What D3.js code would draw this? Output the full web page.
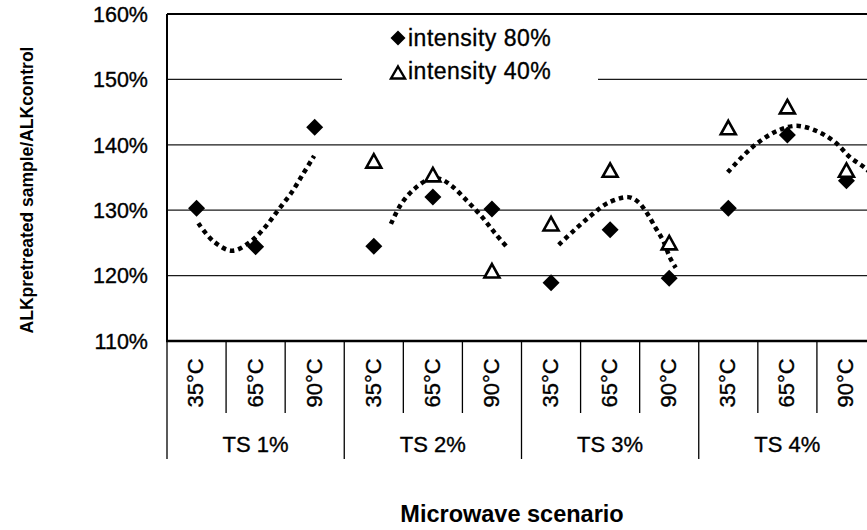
<!DOCTYPE html>
<html>
<head>
<meta charset="utf-8">
<script src="https://cdn.jsdelivr.net/npm/d3@7/dist/d3.min.js"></script>
<style>
  html, body { margin: 0; padding: 0; background: #fff; }
  svg { display: block; font-family: "Liberation Sans", Arial, sans-serif; }
  text.t { stroke: #000; stroke-width: 0.35px; }
</style>
</head>
<body>
<svg id="chart" width="867" height="530"></svg>
<script>
// ---- data ----
const groups = ["TS 1%", "TS 2%", "TS 3%", "TS 4%"];
const temps = ["35°C", "65°C", "90°C"];
const yTicks = [110, 120, 130, 140, 150, 160];
const intensity80 = [130.3, 124.4, 142.7, 124.5, 132.0, 130.2, 118.9, 127.0, 119.6, 130.3, 141.5, 134.5];
const intensity40 = [null, null, null, 137.5, 135.4, 120.7, 127.9, 136.1, 125.0, 142.6, 145.8, 136.1];
// trend curves: [category position (0 = first category centre), value]
const trendTS1 = [[0.03,128.0],[0.28,125.3],[0.60,123.8],[0.90,125.1],[1.16,127.4],[1.38,130.0],[1.60,132.6],[1.80,135.5],[1.99,138.3]];
const trendTS2 = [[3.29,127.9],[3.46,130.9],[3.68,133.2],[3.95,134.8],[4.12,134.8],[4.32,133.7],[4.58,131.4],[4.83,129.0],[5.05,126.5],[5.27,124.2]];
const trendTS3 = [[6.13,124.7],[6.40,127.0],[6.69,129.3],[6.96,131.1],[7.30,132.0],[7.47,131.3],[7.62,129.6],[7.77,127.3],[7.90,125.3],[8.01,122.8],[8.11,121.2]];
const trendTS4 = [[8.99,135.8],[9.25,138.3],[9.50,140.3],[9.82,142.1],[10.16,142.9],[10.52,142.0],[10.82,140.3],[11.06,138.1],[11.31,136.5],[11.50,134.8]];
const legendLabels = ["intensity 80%", "intensity 40%"];

// ---- layout ----
const L = 167, R = 876, T = 14, B = 341;
const svg = d3.select("#chart");
const categories = [];
groups.forEach(g => temps.forEach(t => categories.push(g + "|" + t)));

const x = d3.scaleBand().domain(categories).range([L, R]).padding(0);
const xPos = d3.scaleLinear().domain([-0.5, categories.length - 0.5]).range([L, R]);
const y = d3.scaleLinear().domain([110, 160]).range([B, T]);

// gridlines
svg.append("g").selectAll("line").data(yTicks.filter(v => v > 110 && v < 160)).join("line")
  .attr("x1", L).attr("x2", R).attr("y1", d => y(d)).attr("y2", d => y(d))
  .attr("stroke", "#1a1a1a").attr("stroke-width", 1.2);

// plot border (top + left)
svg.append("line").attr("x1", L).attr("x2", R).attr("y1", y(160)).attr("y2", y(160))
  .attr("stroke", "#000").attr("stroke-width", 2);
svg.append("line").attr("x1", L).attr("x2", L).attr("y1", y(160)).attr("y2", B)
  .attr("stroke", "#000").attr("stroke-width", 2);

// y tick labels
svg.append("g").selectAll("text").data(yTicks).join("text").attr("class", "t")
  .attr("x", 148).attr("y", d => y(d)).attr("dy", "0.36em")
  .attr("text-anchor", "end").attr("font-size", 21.5).attr("fill", "#000")
  .text(d => d + "%");

// category axis ticks
const tickG = svg.append("g");
categories.forEach((c, i) => {
  const xx = x(c);
  const isGroup = i % temps.length === 0;
  tickG.append("line").attr("x1", xx).attr("x2", xx).attr("y1", B).attr("y2", isGroup ? 459 : 413)
    .attr("stroke", "#000").attr("stroke-width", 1.3);
});
tickG.append("line").attr("x1", R).attr("x2", R).attr("y1", B).attr("y2", 459)
  .attr("stroke", "#000").attr("stroke-width", 1.3);
svg.append("line").attr("x1", L - 1).attr("x2", R).attr("y1", B).attr("y2", B)
  .attr("stroke", "#000").attr("stroke-width", 2.5);

// temperature labels (rotated)
svg.append("g").selectAll("text").data(categories).join("text").attr("class", "t")
  .attr("transform", d => `translate(${x(d) + x.bandwidth() / 2 - 1},383) rotate(-90)`)
  .attr("text-anchor", "middle").attr("dy", "0.36em")
  .attr("font-size", 22).attr("fill", "#000")
  .text(d => d.split("|")[1]);

// group labels
svg.append("g").selectAll("text").data(groups).join("text").attr("class", "t")
  .attr("x", (g, gi) => (x(categories[gi * 3]) + x(categories[gi * 3 + 2]) + x.bandwidth()) / 2)
  .attr("y", 452).attr("text-anchor", "middle")
  .attr("font-size", 22).attr("fill", "#000")
  .text(d => d);

// axis titles
svg.append("text").attr("x", 512).attr("y", 522).attr("text-anchor", "middle")
  .attr("font-size", 23.5).attr("font-weight", "bold").attr("fill", "#000")
  .text("Microwave scenario");
svg.append("text").attr("transform", "translate(33,190) rotate(-90)")
  .attr("text-anchor", "middle").attr("font-size", 17.5).attr("font-weight", "bold").attr("fill", "#000")
  .text("ALKpretreated sample/ALKcontrol");

// legend background
svg.append("rect").attr("x", 342).attr("y", 20).attr("width", 256).attr("height", 72).attr("fill", "#fff");

// trend curves
const line = d3.line().x(d => xPos(d[0])).y(d => y(d[1])).curve(d3.curveCatmullRom.alpha(0.5));
svg.append("clipPath").attr("id", "pc").append("rect")
  .attr("x", L).attr("y", T).attr("width", R - L).attr("height", B - T);
svg.append("g").attr("clip-path", "url(#pc)").selectAll("path")
  .data([trendTS1, trendTS2, trendTS3, trendTS4]).join("path")
  .attr("d", line).attr("fill", "none").attr("stroke", "#000")
  .attr("stroke-width", 4.5).attr("stroke-dasharray", "4.5 4");

// markers
const diamond = "M0,-8.5L8.5,0L0,8.5L-8.5,0Z";
const triangle = "M0,-7.5L7.5,6L-7.5,6Z";
svg.append("g").selectAll("path").data(intensity80.map((v, i) => [i, v])).join("path")
  .attr("transform", d => `translate(${x(categories[d[0]]) + x.bandwidth() / 2},${y(d[1])})`)
  .attr("d", diamond).attr("fill", "#000");
svg.append("g").selectAll("path").data(intensity40.map((v, i) => [i, v]).filter(d => d[1] !== null)).join("path")
  .attr("transform", d => `translate(${x(categories[d[0]]) + x.bandwidth() / 2},${y(d[1]) + 0.5})`)
  .attr("d", triangle).attr("fill", "#fff").attr("stroke", "#000").attr("stroke-width", 2.6)
  .attr("stroke-linejoin", "miter");

// legend
const lg = svg.append("g");
lg.append("path").attr("transform", "translate(398,38)").attr("d", "M0,-7.5L7.5,0L0,7.5L-7.5,0Z").attr("fill", "#000");
lg.append("path").attr("transform", "translate(398,73)").attr("d", "M0,-6.5L7,5.5L-7,5.5Z")
  .attr("fill", "#fff").attr("stroke", "#000").attr("stroke-width", 2.4);
lg.selectAll("text").data(legendLabels).join("text").attr("class", "t")
  .attr("x", 408).attr("y", (d, i) => 46 + i * 33)
  .attr("font-size", 23).attr("letter-spacing", 0.5).attr("fill", "#000")
  .text(d => d);
</script>
</body>
</html>
